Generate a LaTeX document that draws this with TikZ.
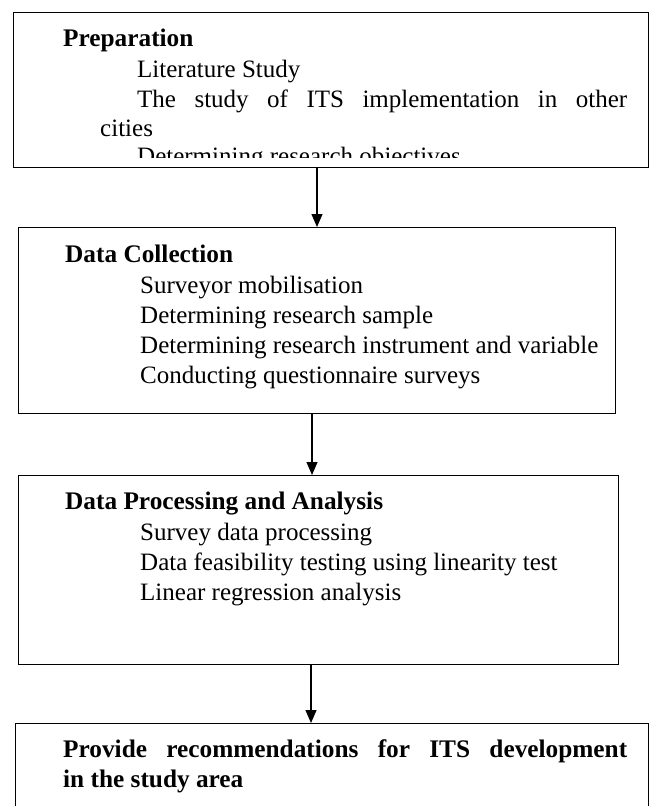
\documentclass[tikz,border=0pt]{standalone}
\usepackage{fontspec}
\setmainfont{Liberation Serif}
\usetikzlibrary{arrows.meta}
\begin{document}
\begin{tikzpicture}[x=1pt,y=-1pt,
  stagebox/.style={draw, line width=1.2pt, rectangle, inner sep=0pt, anchor=north west},
  item/.style={anchor=base west, inner sep=0pt, font=\fontsize{25}{30}\selectfont},
  head/.style={anchor=base west, inner sep=0pt, font=\fontsize{25.3}{30}\selectfont\bfseries},
  flow/.style={line width=1.2pt, -{Triangle[width=11pt,length=13pt]}}]
\useasboundingbox (0,0) rectangle (654,806);

% stage boxes
\node[stagebox, minimum width=635pt, minimum height=155pt] (b1) at (13,12) {};
\node[stagebox, minimum width=597pt, minimum height=186pt] (b2) at (18,227) {};
\node[stagebox, minimum width=600pt, minimum height=189pt] (b3) at (18,475) {};
\node[stagebox, minimum width=633pt, minimum height=110pt] (b4) at (15,723) {};

% stage 1: preparation
\node[head] (h1) at (63,46) {Preparation};
\node[item] (p1) at (137,77) {Literature Study};
\node[item] (p2) at (137,107) {\makebox[490pt][s]{The study of ITS implementation in other}};
\node[item] (p3) at (100,136) {cities};
\begin{scope}
  \clip (13,12) rectangle (648,157.5);
  \node[item] (p4) at (137,164) {Determining research objectives};
\end{scope}

% stage 2: data collection
\node[head] (h2) at (65,262) {Data Collection};
\node[item] (c1) at (140,293) {Surveyor mobilisation};
\node[item] (c2) at (140,323) {Determining research sample};
\node[item] (c3) at (140,353) {Determining research instrument and variable};
\node[item] (c4) at (140,383) {Conducting questionnaire surveys};

% stage 3: processing and analysis
\node[head] (h3) at (65,509) {Data Processing and Analysis};
\node[item] (d1) at (140,540) {Survey data processing};
\node[item] (d2) at (140,570) {Data feasibility testing using linearity test};
\node[item] (d3) at (140,600) {Linear regression analysis};

% stage 4: recommendations
\node[head] (r1) at (63,757) {\makebox[564pt][s]{Provide recommendations for ITS development}};
\node[head] (r2) at (63,787) {in the study area};

% connectors
\coordinate (a1) at (317,0);
\coordinate (a2) at (312,0);
\coordinate (a3) at (311,0);
\draw[flow] (b1.south -| a1) -- (b2.north -| a1);
\draw[flow] (b2.south -| a2) -- (b3.north -| a2);
\draw[flow] (b3.south -| a3) -- (b4.north -| a3);
\end{tikzpicture}
\end{document}
